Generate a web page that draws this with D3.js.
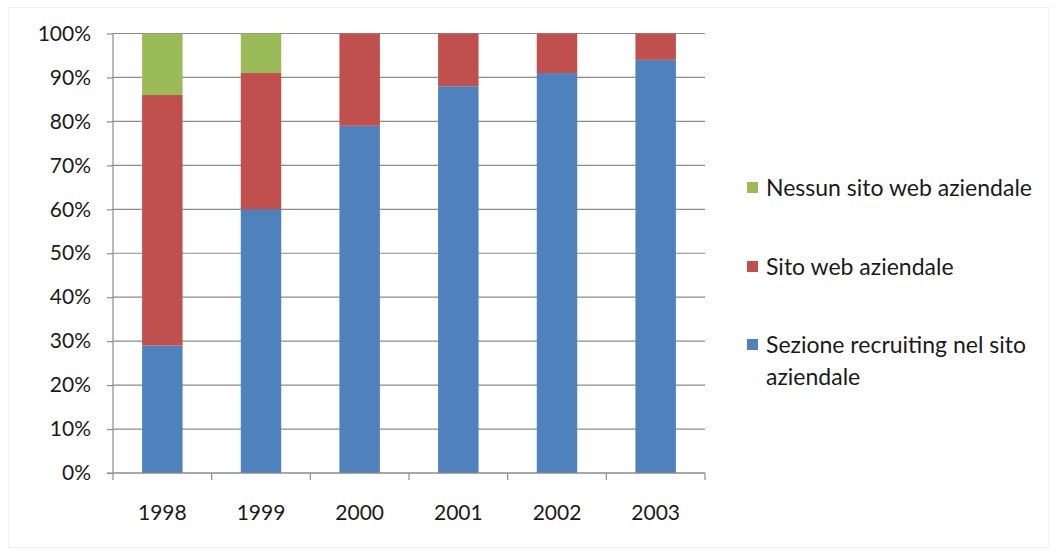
<!DOCTYPE html>
<html>
<head>
<meta charset="utf-8">
<script src="https://cdn.jsdelivr.net/npm/d3@7"></script>
<style>
  body { margin: 0; background: #fff; }
  text { font-family: Lato, "Open Sans", sans-serif; fill: #1a1a1a; }
</style>
</head>
<body>
<div id="chart"></div>
<script>
// data (percent of companies)
var years = ["1998", "1999", "2000", "2001", "2002", "2003"];
var recruiting = [29, 60, 79, 88, 91, 94];
var sitoWeb = [57, 31, 21, 12, 9, 6];
var nessunSito = [14, 9, 0, 0, 0, 0];
var yTicks = [0, 10, 20, 30, 40, 50, 60, 70, 80, 90, 100];

var seriesNames = ["Sezione recruiting nel sito aziendale", "Sito web aziendale", "Nessun sito web aziendale"];
var colors = ["#4f81bd", "#c0504d", "#9bbb59"];

var svgWidth = 1056;
var svgHeight = 553;
var margin = { top: 33.5, left: 113, right: 351, bottom: 80 };
var width = svgWidth - margin.left - margin.right;
var height = 473 - margin.top;

var svg = d3.select("#chart")
  .append("svg")
  .attr("width", svgWidth)
  .attr("height", svgHeight);

// faint chart border
svg.append("rect")
  .attr("x", 8.5).attr("y", 7.5)
  .attr("width", 1040).attr("height", 540)
  .attr("fill", "none")
  .attr("stroke", "#f0f0f0");

var chartGroup = svg.append("g")
  .attr("transform", `translate(${margin.left}, ${margin.top})`);

var xScale = d3.scaleBand()
  .domain(years)
  .range([0, width])
  .paddingInner(0.59)
  .paddingOuter(0.295);

var xTicks = d3.scaleBand().domain(years).range([0, width]);

var yScale = d3.scaleLinear()
  .domain([0, 100])
  .range([height, 0]);

// gridlines
chartGroup.append("g")
  .selectAll("line")
  .data(yTicks)
  .enter()
  .append("line")
  .attr("x1", 0)
  .attr("x2", width)
  .attr("y1", d => yScale(d))
  .attr("y2", d => yScale(d))
  .attr("stroke", "#8c8c8c")
  .attr("stroke-width", 1.2);

// stacked bars
var table = years.map(function(y, i) {
  return { year: y, s0: recruiting[i], s1: sitoWeb[i], s2: nessunSito[i] };
});
var stack = d3.stack().keys(["s0", "s1", "s2"])(table);

chartGroup.selectAll("g.layer")
  .data(stack)
  .enter()
  .append("g")
  .attr("class", "layer")
  .attr("fill", (d, i) => colors[i])
  .selectAll("rect")
  .data(d => d)
  .enter()
  .append("rect")
  .attr("x", d => xScale(d.data.year))
  .attr("width", xScale.bandwidth())
  .attr("y", d => yScale(d[1]))
  .attr("height", d => yScale(d[0]) - yScale(d[1]));

// y axis
var leftAxis = d3.axisLeft(yScale)
  .tickValues(yTicks)
  .tickSize(6)
  .tickFormat(d => d + "%");
var yAxis = chartGroup.append("g").call(leftAxis);
yAxis.select(".domain").attr("stroke", "#8c8c8c").attr("stroke-width", 1.2)
  .attr("d", `M0,0V${height}`);
yAxis.selectAll(".tick line").attr("stroke", "#8c8c8c").attr("stroke-width", 1.2);
yAxis.selectAll(".tick text")
  .attr("x", -22)
  .attr("font-size", "21px")
  .attr("font-family", "Lato, 'Open Sans', sans-serif")
  .attr("fill", "#1a1a1a");

// x axis
var bottomAxis = d3.axisBottom(xScale).tickSize(0);
var xAxis = chartGroup.append("g")
  .attr("transform", `translate(0, ${height})`)
  .call(bottomAxis);
xAxis.select(".domain").remove();
xAxis.selectAll(".tick text")
  .attr("y", 32)
  .attr("font-size", "21px")
  .attr("font-family", "Lato, 'Open Sans', sans-serif")
  .attr("fill", "#1a1a1a");

chartGroup.append("line")
  .attr("x1", -6).attr("x2", width)
  .attr("y1", height).attr("y2", height)
  .attr("stroke", "#8c8c8c").attr("stroke-width", 1.2);

chartGroup.append("g")
  .selectAll("line")
  .data(years.concat(["end"]))
  .enter()
  .append("line")
  .attr("x1", (d, i) => i * xTicks.step())
  .attr("x2", (d, i) => i * xTicks.step())
  .attr("y1", height)
  .attr("y2", height + 7)
  .attr("stroke", "#8c8c8c")
  .attr("stroke-width", 1.2);

// legend
var legendItems = [
  { color: colors[2], lines: [seriesNames[2]], y: 188 },
  { color: colors[1], lines: [seriesNames[1]], y: 267 },
  { color: colors[0], lines: ["Sezione recruiting nel sito", "aziendale"], y: 345 }
];

var legend = svg.append("g");
var item = legend.selectAll("g")
  .data(legendItems)
  .enter()
  .append("g")
  .attr("transform", d => `translate(747, ${d.y})`);

item.append("rect")
  .attr("x", 0)
  .attr("y", -6)
  .attr("width", 11)
  .attr("height", 11)
  .attr("fill", d => d.color);

item.append("text")
  .attr("font-size", "23px")
  .selectAll("tspan")
  .data(d => d.lines)
  .enter()
  .append("tspan")
  .attr("x", 19)
  .attr("y", (d, i) => i * 32)
  .attr("dy", "0.35em")
  .text(d => d);
</script>
</body>
</html>
